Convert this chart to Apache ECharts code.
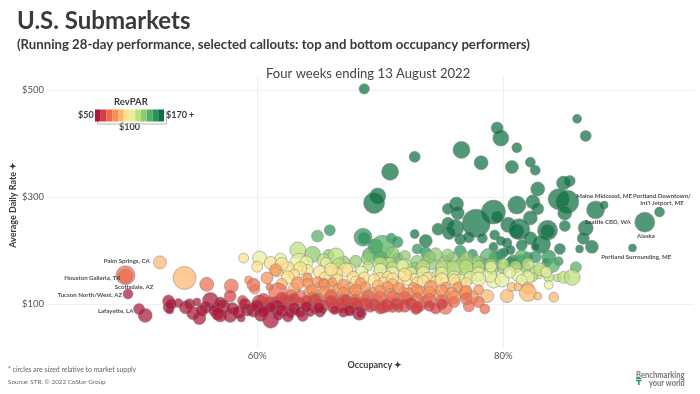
<!DOCTYPE html>
<html><head><meta charset="utf-8">
<style>html,body{margin:0;padding:0;background:#fff}#c{width:700px;height:394px}</style>
<script src="https://cdn.jsdelivr.net/npm/echarts@6/dist/echarts.min.js"></script>
</head><body><div id="c"></div>
<script>
// each point: [occupancy %, ADR $, supply]; each group shares an estimated RevPAR
const deepGreen=[[68.7,502,22],[86,446,16],[86.7,414,25],[79.5,429,30],[79.8,410,56],[81.1,392,20],[76.6,388,64],[72.8,375,25],[78.2,364,42],[80.7,356,36],[82.2,365,20],[82.6,350,20],[70.8,347,64],[85.4,330,25],[84.9,326,42],[82.8,315,42],[69.8,302,56],[69.5,289,100],[84.5,296,100],[85.2,291,121],[82.4,291,42],[81.1,285,72],[79.2,272,132],[76.2,287,42],[75.5,278,25],[76.3,270,36],[82.8,278,30],[85,270,42],[88.2,285,12],[87.5,276,72],[92.7,272,20],[91.5,253,90],[77.8,251,182],[79.5,263,30],[82.2,261,42],[80.4,248,49],[81.3,240,100],[81.1,236,49],[83.6,238,90],[83.6,236,42],[85,246,25],[86.7,242,49],[75.5,251,30],[76.1,242,64],[75.6,233,36],[74.7,240,30],[76.5,221,25],[77.2,225,25],[78.3,223,20],[72.8,231,16],[73.7,218,36],[79.3,229,20],[82.2,223,36],[83.1,212,72],[86.5,223,30],[84.6,203,25],[87.2,207,36],[86.2,203,12],[90.5,205,12],[79.8,218,16],[80.3,214,20],[79.2,207,16],[80.6,201,16],[81.5,210,25],[82.6,207,12],[80.1,197,16]];
const midGreen=[[68.6,225,72],[68.7,223,30],[70.9,223,20],[71.4,216,25],[69.6,208,49],[65.9,238,25],[73,203,20],[73.7,197,25],[76.5,199,30],[77.5,193,20],[79.8,193,25],[79.4,186,42],[80.8,182,25],[82.6,188,30],[82,188,20],[83.7,188,42],[83.5,177,16],[84.5,180,16],[81.4,180,36],[80.6,177,30]];
const softGreen=[[70.2,207,121],[64.9,227,30],[78.8,188,64],[85.9,169,25],[69.1,193,36],[71.4,186,25],[70,186,42],[81.5,190,36],[84,172,42],[78.5,172,42]];
const lime=[[64.5,193,56],[65.8,192,25],[73,178,42],[73.7,182,16],[74.2,175,30],[75.3,178,42],[75.9,186,30],[75.9,162,72],[76.7,178,36],[77.4,164,36],[78.1,180,16],[80,167,25],[72.8,167,30],[79.1,164,30],[81.8,167,25],[81.1,167,16],[70.7,178,25],[71,195,36],[72,190,25],[74.5,193,36],[75.5,192,30],[77.8,180,30],[77,185,42],[74,188,30],[69,185,36],[68,180,30],[67,178,36]];
const lightLime=[[63.3,201,56],[66.4,190,56],[65.4,182,36],[66.6,175,30],[69,171,20],[70.8,177,25],[72.3,164,25],[74.6,152,30],[77.5,164,25],[75.9,164,72],[73.3,167,25],[74.9,167,20],[76.9,154,36],[82.8,160,42],[82.4,150,16],[83.7,150,20],[84.4,149,12],[84.9,150,30],[85.6,150,56],[70,175,42],[71,168,30],[72,172,42],[73.5,170,36],[75,170,30],[77,170,42],[78,170,30],[79,172,36],[80,175,25],[81,170,30],[82,175,30],[83,165,36]];
const paleLime=[[63.4,178,72],[61.9,184,30],[60.2,186,42],[65.6,177,25],[69.8,158,20],[78,156,42],[79.2,143,42],[81.2,154,36],[79.9,145,42],[78.9,154,42],[83.7,136,16],[64,178,36],[66,158,36],[67.5,165,30],[68.5,160,30],[70,165,30],[71,158,36],[71.8,172,30],[72.5,158,30],[73.5,158,36],[74,150,25],[75,158,30],[76,150,36],[76.5,145,30],[77.3,150,30],[78,147,42],[79,170,25],[80.5,160,30],[82,150,36],[83.5,160,25],[81.5,145,25]];
const yellow=[[58.9,186,20],[61.6,164,42],[62.5,167,36],[64.1,164,25],[61.1,177,36],[67.2,164,42],[66.5,158,25],[67.8,150,30],[70,149,25],[70.6,152,20],[71.4,139,42],[72.2,145,25],[73.8,149,25],[72.8,149,16],[76.1,139,25],[63.5,167,36],[65.1,160,36],[62,175,36],[63,155,25],[62.5,150,36],[64,145,30],[65.5,150,25],[66.5,146,25],[66,165,36],[68,142,25],[68.7,150,25],[69.5,145,30],[70.3,140,25],[71,147,30],[72,155,36],[73,140,25],[73.5,143,30],[74.5,142,25],[75,146,36],[76,146,25],[77,140,20],[60,170,25]];
const peach=[[52.1,178,36],[54.1,149,121],[80.7,132,16],[81.2,132,12],[80.3,115,36],[82,130,30],[82,121,64],[82.8,115,12],[84.1,113,20],[78.7,115,36],[76.9,121,36],[63,128,30],[62,138,25],[69.8,135,25],[71,137,25],[65,130,30],[66,132,25],[67.5,130,25]];
const orange=[[61.5,164,30],[60.8,149,30],[63.3,139,36],[64.1,150,16],[64.1,139,20],[64.9,141,25],[65.4,139,20],[65.5,136,25],[66.1,141,16],[66.6,126,36],[67,136,30],[67.8,122,30],[68.4,139,25],[68.8,130,25],[69.4,122,20],[70.6,132,25],[71.9,122,25],[72.7,130,25],[73.3,121,36],[74.1,132,36],[74.5,117,25],[75.3,132,20],[75.4,111,30],[76.3,132,20],[76.9,121,30],[65.5,122,30],[59.8,128,20],[59.3,145,12],[66.9,111,36],[68.2,113,30],[64.3,121,36],[67,120,30],[68,126,30],[69,117,25],[70,124,30],[70.8,118,30],[71.5,130,25],[72.3,118,36],[73,126,25],[74,122,30],[75,125,30],[75.8,120,30],[76,113,36],[77.5,113,36],[78,127,20],[77,125,25],[64.5,126,25]];
const salmon=[[55.9,137,42],[57.9,134,42],[59.7,136,36],[61.7,122,81],[61,132,9],[75.3,94,42],[77.2,96,25],[78.5,91,20],[49.3,154,81],[49.3,152,42],[62.8,117,25],[65,111,20],[71.5,107,42],[69.8,107,25],[72.2,109,25],[73.7,104,30],[73.3,98,25],[70.7,102,30],[67.7,102,25],[65.9,111,36],[62.3,110,25],[63.5,115,30],[64.5,112,25],[66,116,30],[67,108,30],[68,108,25],[69,114,30],[70,112,36],[71,114,30],[72,112,30],[73,110,30],[74,108,36],[75,106,30],[76,104,25],[77,110,30],[78,104,25],[66.5,105,25],[68.8,106,30]];
const red=[[57.8,115,30],[58.8,107,20],[60.2,102,56],[62.6,104,42],[62.4,94,20],[64.1,98,25],[65.5,98,25],[66.2,94,30],[66.9,93,20],[68.2,98,16],[69.2,94,20],[70.2,94,30],[71,93,16],[71.5,93,16],[72.9,91,25],[64.7,107,36],[63.5,102,25],[60.5,108,36],[61,100,49],[61.5,103,30],[62,110,36],[63,109,30],[64,104,36],[65,100,30],[66,104,36],[66.8,100,36],[67.2,108,25],[67.5,93,36],[68,102,30],[68.8,100,36],[69.5,99,30],[70,92,25],[70.5,97,36],[71.3,100,30],[72,97,36],[72.5,101,30],[73,94,30],[74,97,25],[75,100,25],[74.5,92,25]];
const crimson=[[49.5,119,20],[50.4,91,25],[50.9,79,42],[52.8,106,30],[52.8,94,25],[52.9,89,12],[53.6,102,16],[54.2,94,36],[54.8,83,36],[55.3,74,36],[55.1,104,12],[55.8,94,30],[56.2,107,56],[56.6,94,16],[57,102,30],[57.2,96,42],[57,79,36],[57.8,79,42],[58.2,87,12],[58.7,74,12],[59.2,89,30],[59.7,89,42],[60.7,89,16],[61.1,70,56],[61.6,94,49],[61.7,79,20],[63.1,87,12],[63.7,78,25],[64.7,89,12],[65.1,85,20],[65.3,89,12],[68.3,83,42],[68.4,83,16],[61.1,94,25],[62.7,83,16],[64.3,85,16],[66.3,89,16],[53,100,25],[54.5,100,25],[55.5,88,30],[56.5,88,25],[56.8,82,36],[58,92,30],[58.5,85,36],[59,100,30],[60,96,36],[60.3,80,36],[60.5,86,30],[62,88,36],[62.5,77,25],[63,92,30],[63.5,85,25],[64,95,25],[65,93,25],[67,85,20],[67.5,88,25]];
const groups=[[deepGreen,175],[midGreen,150],[softGreen,138],[lime,125],[lightLime,115],[paleLime,105],[yellow,96],[peach,88],[orange,80],[salmon,72],[red,62],[crimson,54]];

const revparStops=[50,58.3,66.7,75,83.3,91.7,100,111.7,123.3,135,146.7,158.3,1000];
const revparColors=['#ab1639','#d63d3f','#ee6a4f','#f98f55','#fdb76d','#fde08c','#e5f09b','#bbdf7a','#8ecb6e','#52ae65','#27935a','#0e7043'];

const calloutNames=['Palm Springs, CA','Houston Galleria, TX','Scottsdale, AZ','Tucson North/West, AZ','Lafayette, LA','Maine Midcoast, ME','Portland Downtown/\nInt\'l Jetport, ME','Seattle CBD, WA','Alaska','Portland Surrounding, ME'];
const calloutOcc=[49.4,46.6,50,46.4,48.5,88.2,92.9,88.5,91.6,90.8];
const calloutAdr=[180,149,132,117,87,302,295,253,227,188];

const occTicks=[60,80];
const adrTicks=[100,300,500];

const points=[];
groups.forEach(([g,rev])=>g.forEach(p=>points.push([p[0],p[1],p[2],rev])));
const callouts=calloutNames.map((n,i)=>({name:n,value:[calloutOcc[i],calloutAdr[i]]}));
const pieces=revparColors.map((c,i)=>({min:revparStops[i],max:revparStops[i+1],color:c}));

const FF='Lato';
const txt=(x,y,text,style,extra)=>Object.assign({type:'text',left:x,top:y,silent:true,style:Object.assign({text,fill:'#3a3a3a',fontFamily:FF},style)},extra||{});
const chart=echarts.init(document.getElementById('c'),null,{renderer:'canvas'});
chart.setOption({
  animation:false,backgroundColor:'#fff',
  grid:{left:48,right:6,top:76.5,bottom:47,outerBoundsMode:'none'},
  xAxis:{type:'value',min:43,max:95.5,
    axisLine:{show:false},
    axisTick:{show:false,customValues:occTicks},
    splitLine:{show:true,lineStyle:{color:'#eeeeee',width:1}},
    axisLabel:{customValues:occTicks,formatter:v=>v+'%',color:'#555',fontSize:9.5,fontFamily:FF,margin:4},
    name:'Occupancy ✦',nameLocation:'middle',nameGap:14,nameMoveOverlap:false,nameTextStyle:{color:'#3a3a3a',fontWeight:'bold',fontSize:9,fontFamily:FF,padding:[0,0,0,8]}},
  yAxis:{type:'value',min:20,max:525,
    axisLine:{show:false},
    axisTick:{show:false,customValues:adrTicks},
    splitLine:{show:true,lineStyle:{color:'#f0f0f0',width:1}},
    axisLabel:{customValues:adrTicks,formatter:v=>'$'+v,color:'#555',fontSize:9.5,fontFamily:FF,margin:4},
    name:'Average Daily Rate ✦',nameLocation:'middle',nameGap:30,nameMoveOverlap:false,nameTextStyle:{color:'#3a3a3a',fontWeight:'bold',fontSize:9,fontFamily:FF,padding:[0,0,0,14]}},
  visualMap:{type:'piecewise',seriesIndex:0,dimension:3,orient:'horizontal',left:95,top:109.5,itemWidth:5.75,itemHeight:12,itemGap:0,
    itemSymbol:'rect',showLabel:false,selectedMode:false,hoverLink:false,padding:0,pieces},
  graphic:[
    txt(17,9,'U.S. Submarkets',{fontSize:24,fontWeight:'bold'}),
    txt(17,38,'(Running 28-day performance, selected callouts: top and bottom occupancy performers)',{fontSize:13.2,fontWeight:'bold'}),
    txt(266,67,'Four weeks ending 13 August 2022',{fontSize:13.1,fill:'#444'}),
    txt(114,97,'RevPAR',{fontSize:9.5,fontWeight:'bold'}),
    txt(78,111,'$50',{fontSize:9,fontWeight:'bold'}),
    txt(166,111,'$170 +',{fontSize:9,fontWeight:'bold'}),
    txt(119,123,'$100',{fontSize:9,fontWeight:'bold'}),
    {type:'rect',left:95,top:109.5,shape:{width:69,height:12},silent:true,style:{fill:'none',stroke:'#b8b8b8',lineWidth:1}},
    txt(8,366,'* circles are sized relative to market supply',{fontSize:6.9,fill:'#666'}),
    txt(8,379,'Source: STR. © 2022 CoStar Group',{fontSize:6.35,fill:'#666'}),
    txt(636,370,'Benchmarking',{fontSize:10,fontWeight:'bold',fill:'#777'},{scaleX:0.76}),
    txt(649,377.5,'your world',{fontSize:10,fontWeight:'bold',fill:'#777'},{scaleX:0.74}),
    txt(636,379,'₸',{fontSize:8,fontWeight:'bold',fill:'#1f8f7a',fontFamily:'DejaVu Sans'})
  ],
  series:[
    {type:'scatter',data:points,encode:{x:0,y:1},
      symbolSize:d=>2*Math.sqrt(d[2])+1,
      itemStyle:{opacity:0.72,borderColor:'#808080',borderWidth:0.7},z:2},
    {type:'scatter',data:callouts,symbolSize:0,z:5,
      label:{show:true,position:'inside',formatter:p=>p.name,color:'#222',fontSize:6.1,lineHeight:7.5,fontWeight:'bold',fontFamily:FF}}
  ]
});
</script></body></html>
